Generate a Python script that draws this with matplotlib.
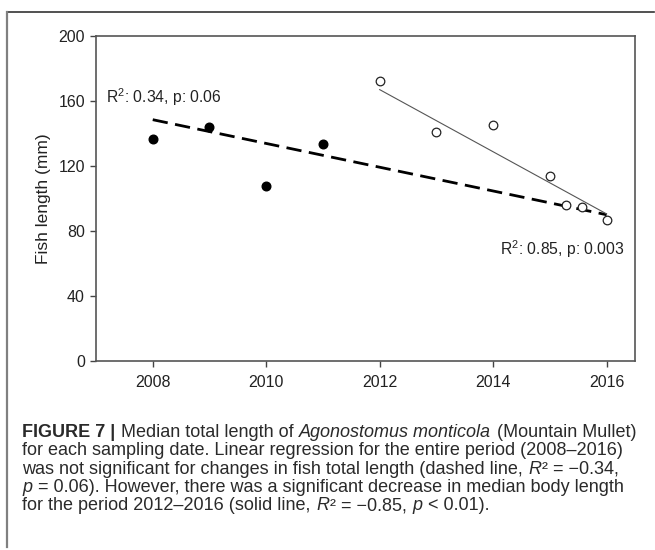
import matplotlib
matplotlib.use("Agg")
import matplotlib.pyplot as plt
from matplotlib.lines import Line2D
from matplotlib.transforms import IdentityTransform

plt.rcParams["font.family"] = ["Liberation Sans", "DejaVu Sans"]
plt.rcParams["mathtext.fontset"] = "custom"
plt.rcParams["mathtext.rm"] = "Liberation Sans"
plt.rcParams["mathtext.it"] = "Liberation Sans:italic"
plt.rcParams["mathtext.bf"] = "Liberation Sans:bold"

# Median fish length per sampling date.
years_all = [2008, 2009, 2010, 2011]
length_all = [136.4, 144.0, 107.5, 133.6]
years_recent = [2012, 2013, 2014, 2015, 2015.28, 2015.57, 2016]
length_recent = [172.2, 140.9, 145.4, 113.9, 96.0, 94.8, 86.8]

# Regression lines as drawn (end points).
fit_all_years = [2008, 2016]
fit_all_length = [148.5, 90.0]
fit_recent_years = [2012, 2016]
fit_recent_length = [167.0, 90.5]

xticks = [2008, 2010, 2012, 2014, 2016]
yticks = [0, 40, 80, 120, 160, 200]

# Caption, split in (text, style) pieces: n normal, b bold, i italic.
caption = [
    [("FIGURE 7 |", "b"), (" Median total length of ", "n"),
     ("Agonostomus monticola", "i"), (" (Mountain Mullet)", "n")],
    [("for each sampling date. Linear regression for the entire period (2008\u20132016)", "n")],
    [("was not significant for changes in fish total length (dashed line, ", "n"),
     ("R", "i"), ("\u00b2 = \u22120.34,", "n")],
    [("p", "i"), (" = 0.06). However, there was a significant decrease in median body length", "n")],
    [("for the period 2012\u20132016 (solid line, ", "n"), ("R", "i"),
     ("\u00b2 = \u22120.85, ", "n"), ("p", "i"), (" < 0.01).", "n")],
]

fig = plt.figure(figsize=(6.55, 5.5), dpi=100)
ax = fig.add_axes([96 / 655, 1 - 361 / 550, (635 - 96) / 655, (361 - 36) / 550])

ink = "#222222"
ax.plot(fit_all_years, fit_all_length, color="black", lw=2.0,
        dashes=(5.5, 2.7), zorder=2)
ax.plot(fit_recent_years, fit_recent_length, color="#555555", lw=0.8, zorder=2)
ax.plot(years_all, length_all, "o", color="black", ms=6.2, zorder=3)
ax.plot(years_recent, length_recent, "o", mfc="white", mec="#222222",
        mew=0.9, ms=6.2, zorder=3)

ax.text(2007.17, 158.8, r"R$^2$: 0.34, p: 0.06", fontsize=11.3,
        color=ink, va="baseline", ha="left")
ax.text(2016.31, 65.2, r"R$^2$: 0.85, p: 0.003", fontsize=11.3,
        color=ink, va="baseline", ha="right")

ax.set_xlim(2007.0, 2016.5)
ax.set_ylim(0, 200)
ax.set_xticks(xticks)
ax.set_yticks(yticks)
ax.tick_params(direction="out", length=4, width=1, color="#444444",
               labelsize=11.5, labelcolor=ink, pad=4)
ax.tick_params(axis="x", pad=6)
ax.set_ylabel("Fish length (mm)", fontsize=12.5, color=ink, labelpad=5.5)
for s in ax.spines.values():
    s.set_color("#555555")
    s.set_linewidth(1.2)

# Page frame lines
fig.add_artist(Line2D([7 / 655, 654 / 655], [1 - 11.5 / 550] * 2,
                      color="#333333", lw=1.2, transform=fig.transFigure))
fig.add_artist(Line2D([7 / 655] * 2, [1 - 11.5 / 550, 1 - 547 / 550],
                      color="#808080", lw=1.6, transform=fig.transFigure))

# Caption written piece by piece so bold/italic words sit inline.
styles = {"n": dict(), "b": dict(fontweight="bold"), "i": dict(fontstyle="italic")}
renderer = fig.canvas.get_renderer()
probe = fig.text(0, 0, "a a", fontsize=13)
w2 = probe.get_window_extent(renderer).width
probe.set_text("aa")
space = w2 - probe.get_window_extent(renderer).width
probe.remove()

for i, parts in enumerate(caption):
    x = 22.0
    y = 550 - (437 + i * 18.3)
    for txt, st in parts:
        x += space * (len(txt) - len(txt.lstrip(" ")))
        t = fig.text(x, y, txt.strip(" "), fontsize=13, color="#2a2a2a",
                     ha="left", va="baseline", transform=IdentityTransform(),
                     **styles[st])
        x = t.get_window_extent(renderer).x1 + 0.6
        x += space * (len(txt) - len(txt.rstrip(" ")))

fig.savefig("out.png", dpi=100)
